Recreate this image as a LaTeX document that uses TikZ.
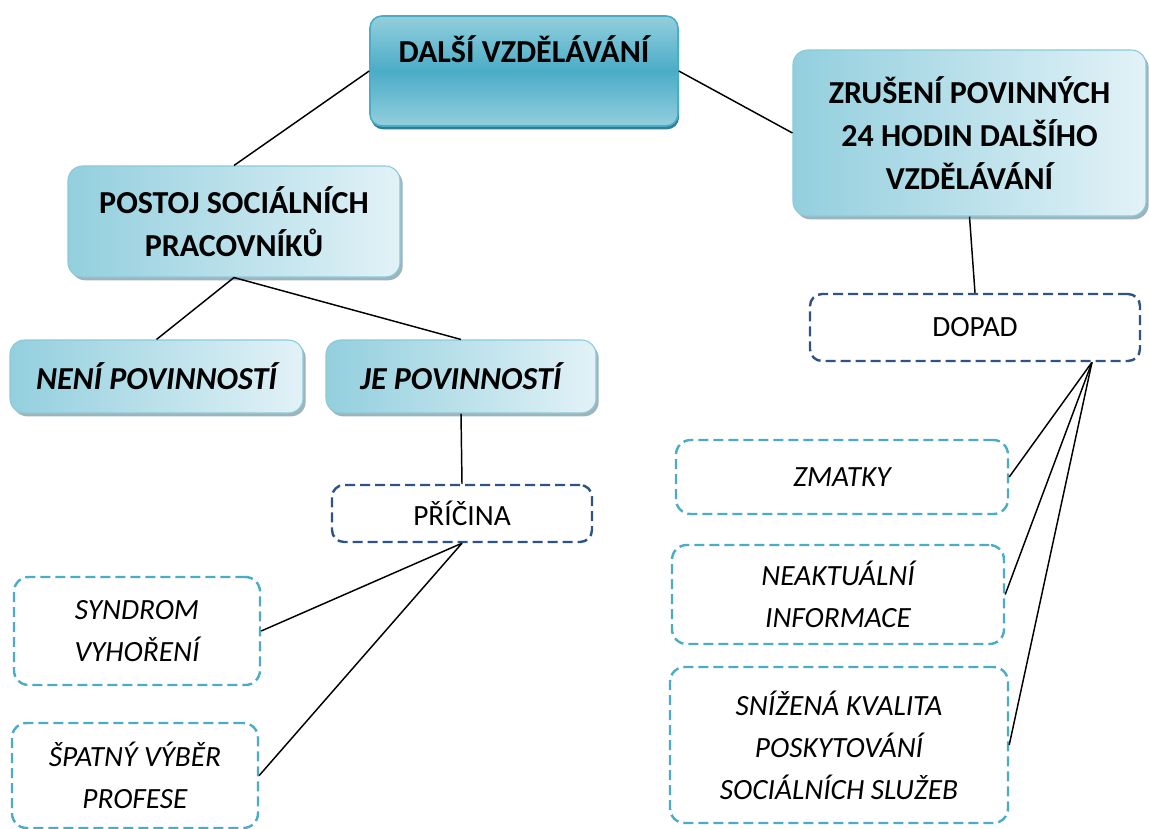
\documentclass[tikz,border=0pt]{standalone}
\usepackage{fontspec}
\setmainfont{Carlito}
\usetikzlibrary{calc,shadows}
\definecolor{EduBlue}{HTML}{4BACC6}
\definecolor{EduBlueLight}{HTML}{93CFDE}
\definecolor{EduPale}{HTML}{E2F2F7}
\definecolor{EduEdge}{HTML}{8ACADB}
\definecolor{EduShadow}{HTML}{2F7F94}
\definecolor{EduGrayShadow}{HTML}{9FB3BB}
\definecolor{EduNavy}{HTML}{2E5487}

\begin{document}
\begin{tikzpicture}[x=0.75pt,y=-0.75pt,
  txt/.style={font=\fontsize{22pt}{31pt}\selectfont,align=center,inner sep=0pt},
  head/.style={txt,draw=EduBlue,line width=1.2pt,rounded corners=9pt,
    top color=EduBlueLight,bottom color=EduBlueLight,middle color=EduBlue,
    font=\fontsize{24pt}{32pt}\selectfont\bfseries,
    drop shadow={shadow xshift=0.8pt,shadow yshift=-2.5pt,fill=EduShadow,opacity=1}},
  topic/.style={txt,draw=EduEdge,line width=0.8pt,rounded corners=11pt,
    left color=EduBlueLight,right color=EduPale,
    font=\fontsize{24pt}{32.5pt}\selectfont\bfseries,
    drop shadow={shadow xshift=2pt,shadow yshift=-2.5pt,fill=EduGrayShadow,opacity=1}},
  cause/.style={txt,draw=EduNavy,line width=1.8pt,dash pattern=on 7.5pt off 3.75pt,
    rounded corners=9pt,fill=white},
  item/.style={txt,draw=EduBlue,line width=1.8pt,dash pattern=on 7.5pt off 3.75pt,
    rounded corners=11pt,fill=white,font=\fontsize{22pt}{31.5pt}\selectfont\itshape},
  link/.style={black,line width=1.1pt}]
  \clip (0,0) rectangle (1149,828);
  \fill[white] (0,0) rectangle (1149,828);
  \node[head,minimum width=231pt,text height=34.5pt,text depth=48pt] (dv) at (524,71) {DALŠÍ VZDĚLÁVÁNÍ};
  \node[topic,minimum width=264.75pt,minimum height=124.5pt] (zr) at (969.5,133)
    {ZRUŠENÍ POVINNÝCH\\24 HODIN DALŠÍHO\\VZDĚLÁVÁNÍ};
  \node[topic,minimum width=249pt,minimum height=83.25pt] (postoj) at (234,221.5)
    {POSTOJ SOCIÁLNÍCH\\PRACOVNÍKŮ};
  \node[topic,minimum width=219.75pt,minimum height=54.75pt,font=\fontsize{24pt}{32pt}\selectfont\bfseries\itshape] (neni) at (156.5,376.5) {NENÍ POVINNOSTÍ};
  \node[topic,minimum width=202.5pt,minimum height=54.75pt,font=\fontsize{24pt}{32pt}\selectfont\bfseries\itshape] (je) at (461,376.5) {JE POVINNOSTÍ};
  \node[cause,minimum width=195pt,minimum height=42.75pt] (pricina) at (462,513.5) {PŘÍČINA};
  \node[cause,minimum width=247.5pt,minimum height=50.25pt] (dopad) at (975,327.5) {DOPAD};
  \node[item,minimum width=184.5pt,minimum height=81pt] (syndrom) at (137,631) {SYNDROM\\VYHOŘENÍ};
  \node[item,minimum width=184.5pt,minimum height=78.75pt] (vyber) at (135,775.5) {ŠPATNÝ VÝBĚR\\PROFESE};
  \node[item,minimum width=249pt,minimum height=55.5pt] (zmatky) at (842,477) {ZMATKY};
  \node[item,minimum width=249pt,minimum height=74.25pt] (info) at (838,594.5) {NEAKTUÁLNÍ\\INFORMACE};
  \node[item,minimum width=253.5pt,minimum height=117pt] (kvalita) at (839,745)
    {SNÍŽENÁ KVALITA\\POSKYTOVÁNÍ\\SOCIÁLNÍCH SLUŽEB};
  \coordinate (dopadfoot) at ($(dopad.south)+(117,0)$);
  \draw[link] (dv.west) -- (postoj.north);
  \draw[link] (dv.east) -- (zr.west);
  \draw[link] (zr.south) -- (dopad.north);
  \foreach \k in {neni,je}{
    \draw[link] (postoj.south) -- (\k.north);
  }
  \draw[link] (je.south) -- (pricina.north);
  \foreach \k in {syndrom,vyber}{
    \draw[link] (pricina.south) -- (\k.east);
  }
  \foreach \k in {zmatky,info,kvalita}{
    \draw[link] (dopadfoot) -- (\k.east);
  }
\end{tikzpicture}
\end{document}
